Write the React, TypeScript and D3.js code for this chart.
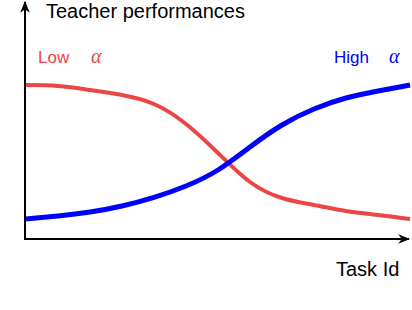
import React from 'react';
import * as d3 from 'd3';

// task index along the x axis
const taskIds = [0, 1, 2, 3, 4, 5, 6, 7, 8, 9, 10, 11, 12];
// teacher performance, low alpha (decreasing)
const lowAlpha = [77, 76.5, 74.5, 72, 67.5, 57.5, 43, 28.5, 20.5, 17, 14, 12, 10];
// teacher performance, high alpha (increasing)
const highAlpha = [10, 11.5, 13.5, 16.5, 20.8, 26.5, 34.5, 46, 57, 65, 70.5, 74, 77];

const width = 412;
const height = 310;
const origin = { x: 25, y: 239 };

export default function App() {
  const x = d3.scaleLinear().domain([0, 12]).range([26, 410]);
  const y = d3.scaleLinear().domain([0, 100]).range([239, 39]);

  const line = (vals: number[]) =>
    d3
      .line<number>()
      .x((_, i) => x(taskIds[i]))
      .y((d) => y(d))
      .curve(d3.curveNatural)(vals) || '';

  const sans = "'Liberation Sans', Arial, sans-serif";
  const serif = "'Liberation Serif', 'DejaVu Serif', serif";

  return (
    <svg
      width={width}
      height={height}
      viewBox={`0 0 ${width} ${height}`}
      style={{ position: 'absolute', left: 0, top: 0, background: '#fff' }}
    >
      <defs>
        <marker id="arrow" viewBox="0 0 10 10" refX="9" refY="5" markerWidth="6" markerHeight="6" orient="auto">
          <path d="M0,1 L10,5 L0,9 L3,5 Z" fill="#000" />
        </marker>
      </defs>
      {/* axes */}
      <line x1={origin.x} y1={origin.y + 1} x2={origin.x} y2={2} stroke="#000" strokeWidth={2} markerEnd="url(#arrow)" />
      <line x1={origin.x - 1} y1={origin.y} x2={409} y2={origin.y} stroke="#000" strokeWidth={2} markerEnd="url(#arrow)" />

      <path d={line(lowAlpha)} fill="none" stroke="#ea4646" strokeWidth={4} />
      <path d={line(highAlpha)} fill="none" stroke="#0000ff" strokeWidth={5} />

      <text x={46} y={18} fontFamily={sans} fontSize={20} fill="#000">Teacher performances</text>
      <text x={38} y={63} fontFamily={sans} fontSize={17} fill="#ea4646">Low</text>
      <text x={91} y={63} fontFamily={serif} fontStyle="italic" fontSize={20} fill="#ea4646">α</text>
      <text x={334} y={63} fontFamily={sans} fontSize={17} fill="#0000ff">High</text>
      <text x={389} y={63} fontFamily={serif} fontStyle="italic" fontSize={20} fill="#0000ff">α</text>
      <text x={336} y={276} fontFamily={sans} fontSize={20} fill="#000">Task Id</text>
    </svg>
  );
}
